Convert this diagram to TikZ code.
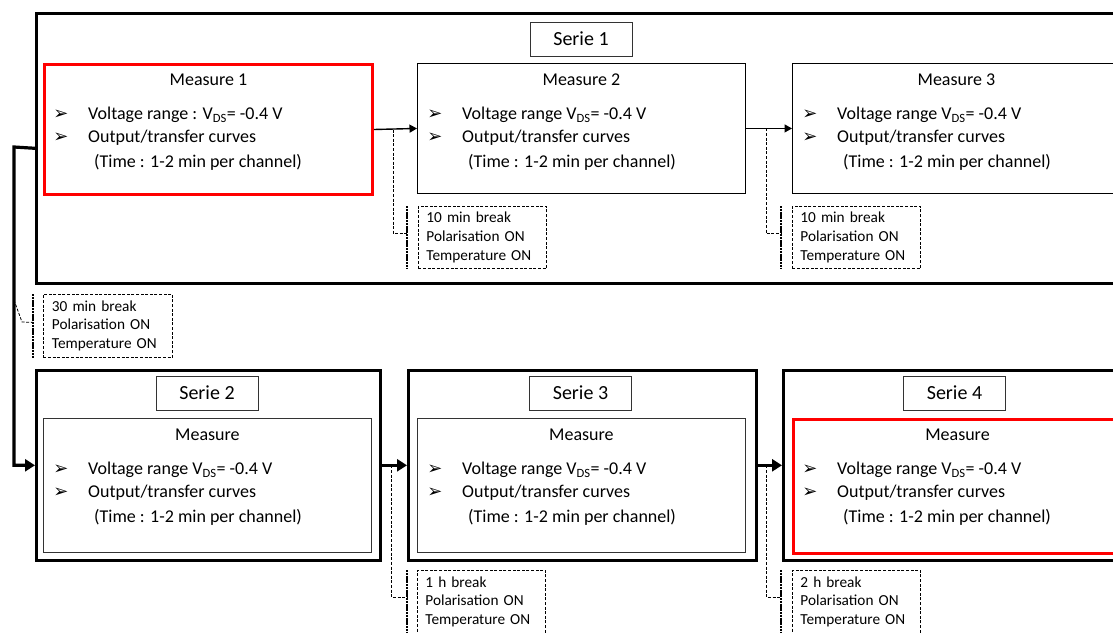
\documentclass[tikz,border=0pt]{standalone}
\usepackage{fontspec}
\setmainfont{Carlito}
\newfontfamily\dejavu{DejaVu Sans Bold}
\usetikzlibrary{arrows.meta}
\newcommand{\mfont}{\fontsize{18}{22}\selectfont}
\newcommand{\bulfont}{\dejavu\fontsize{18}{20}\selectfont}
\newcommand{\mcontent}[3]{%
  \node[mtxt,anchor=center] (#1-t) at ([yshift=-17pt]#1.north) {#2};
  \node[bul] (#1-b1) at ([xshift=18pt,yshift=-52pt]#1.north west) {➢};
  \node[mtxt] (#1-l1) at ([xshift=45pt,yshift=-52pt]#1.north west) {#3};
  \node[bul] (#1-b2) at ([xshift=18pt,yshift=-75pt]#1.north west) {➢};
  \node[mtxt] (#1-l2) at ([xshift=45pt,yshift=-75pt]#1.north west) {Output/transfer curves};
  \node[mtxt] (#1-l3) at ([xshift=51pt,yshift=-99pt]#1.north west) {(Time : 1-2 min per channel)};
}
\begin{document}
\begin{tikzpicture}[x=1pt,y=-1pt,
  serie/.style={draw=black, line width=2.6pt, inner sep=0pt, anchor=north west, minimum height=190pt},
  meas/.style={draw=black!80, line width=0.9pt, inner sep=0pt, anchor=north west, minimum width=328pt},
  redmeas/.style={draw=red, line width=3pt, inner sep=0pt, anchor=north west, minimum width=328pt},
  titlebox/.style={draw=black!80, line width=0.9pt, inner sep=0pt, minimum width=102pt, minimum height=34pt, font=\fontsize{20}{24}\selectfont},
  mtxt/.style={inner sep=0pt, anchor=west, font=\mfont},
  bul/.style={inner sep=0pt, anchor=center, font=\bulfont},
  brk/.style={draw=black, line width=0.8pt, dash pattern=on 3pt off 1.6pt, anchor=north west, minimum width=128pt, minimum height=62pt, text width=112pt, inner xsep=8pt, inner ysep=0pt, align=left, font=\fontsize{15.3}{18.8}\selectfont},
  brack/.style={line width=1.6pt, dash pattern=on 2.2pt off 0.6pt},
  dcon/.style={line width=0.8pt, dash pattern=on 3pt off 1.6pt},
  thinarrow/.style={line width=1.4pt, -{Triangle[length=7.5pt,width=8pt]}},
  thickarrow/.style={line width=3.2pt, -{Triangle[length=10pt,width=12pt]}}
]
\clip (0,0) rectangle (1113,632);
\fill[white] (0,0) rectangle (1113,632);

% Serie 1
\node[serie, minimum width=1100pt, minimum height=270pt] (s1) at (35,12) {};
\node[titlebox] (s1t) at (581,39) {Serie 1};
\node[redmeas, minimum height=130pt] (m1) at (43,63) {};
\node[meas, draw=black, minimum height=130pt] (m2) at (417,63) {};
\node[meas, draw=black, minimum height=130pt] (m3) at (792,63) {};
\mcontent{m1}{Measure 1}{Voltage range : V\textsubscript{DS}= -0.4 V}
\mcontent{m2}{Measure 2}{Voltage range V\textsubscript{DS}= -0.4 V}
\mcontent{m3}{Measure 3}{Voltage range V\textsubscript{DS}= -0.4 V}

\draw[thinarrow] (m1.east) -- (m2.west);
\draw[thinarrow] (m2.east) -- (m3.west);

\node[brk] (b1) at (418,206) {10 min break\\Polarisation ON\\Temperature ON};
\node[brk] (b2) at (792,206) {10 min break\\Polarisation ON\\Temperature ON};
\draw[brack] ([xshift=-11pt]b1.north west) -- ([xshift=-11pt]b1.south west);
\draw[brack] ([xshift=-11pt]b2.north west) -- ([xshift=-11pt]b2.south west);
\coordinate (j1) at ([xshift=19pt]m1.east);
\coordinate (j2) at ([xshift=20pt]m2.east);
\coordinate (k1) at ([xshift=-11pt,yshift=4pt]b1.west);
\coordinate (k2) at ([xshift=-11pt,yshift=4pt]b2.west);
\draw[dcon] (j1) |- (k1);
\draw[dcon] (j2) |- (k2);

% Serie 2,3,4
\node[serie, minimum width=344pt] (s2) at (35,369) {};
\node[serie, minimum width=348pt] (s3) at (407,369) {};
\node[serie, minimum width=344pt] (s4) at (782,369) {};
\node[titlebox] (s2t) at (207,393) {Serie 2};
\node[titlebox] (s3t) at (580.5,393) {Serie 3};
\node[titlebox] (s4t) at (954.5,393) {Serie 4};
\node[meas, minimum height=134pt] (m4) at (43,418) {};
\node[meas, minimum height=134pt] (m5) at (417,418) {};
\node[redmeas, minimum height=134pt] (m6) at (792,418) {};
\mcontent{m4}{Measure}{Voltage range V\textsubscript{DS}= -0.4 V}
\mcontent{m5}{Measure}{Voltage range V\textsubscript{DS}= -0.4 V}
\mcontent{m6}{Measure}{Voltage range V\textsubscript{DS}= -0.4 V}

\draw[thickarrow] (s2.east) -- (s3.west);
\draw[thickarrow] (s3.east) -- (s4.west);

% left connector
\coordinate (c1) at (14,147);
\draw[thickarrow] (s1.west) -- (c1) |- (s2.west);

\node[brk, minimum width=129pt, minimum height=63pt] (b0) at (43,294) {30 min break\\Polarisation ON\\Temperature ON};
\draw[brack] ([xshift=-10pt]b0.north west) -- ([xshift=-10pt]b0.south west);
\coordinate (d0) at (14,300);
\coordinate (d1) at (22,322);
\coordinate (k0) at ([xshift=-10pt,yshift=3.5pt]b0.west);
\draw[dcon] (d0) -- (d1) -- (k0);

\node[brk, minimum height=63pt] (b3) at (417,570) {1 h break\\Polarisation ON\\Temperature ON};
\node[brk, minimum height=63pt] (b4) at (792,570) {2 h break\\Polarisation ON\\Temperature ON};
\draw[brack] ([xshift=-10pt]b3.north west) -- ([xshift=-10pt]b3.south west);
\draw[brack] ([xshift=-11pt]b4.north west) -- ([xshift=-11pt]b4.south west);
\coordinate (j3) at ([xshift=10pt]s2.east);
\coordinate (j4) at ([xshift=9pt]s3.east);
\coordinate (k3) at ([xshift=-10pt,yshift=4.5pt]b3.west);
\coordinate (k4) at ([xshift=-11pt,yshift=4.5pt]b4.west);
\draw[dcon] (j3) |- (k3);
\draw[dcon] (j4) |- (k4);
\end{tikzpicture}
\end{document}
